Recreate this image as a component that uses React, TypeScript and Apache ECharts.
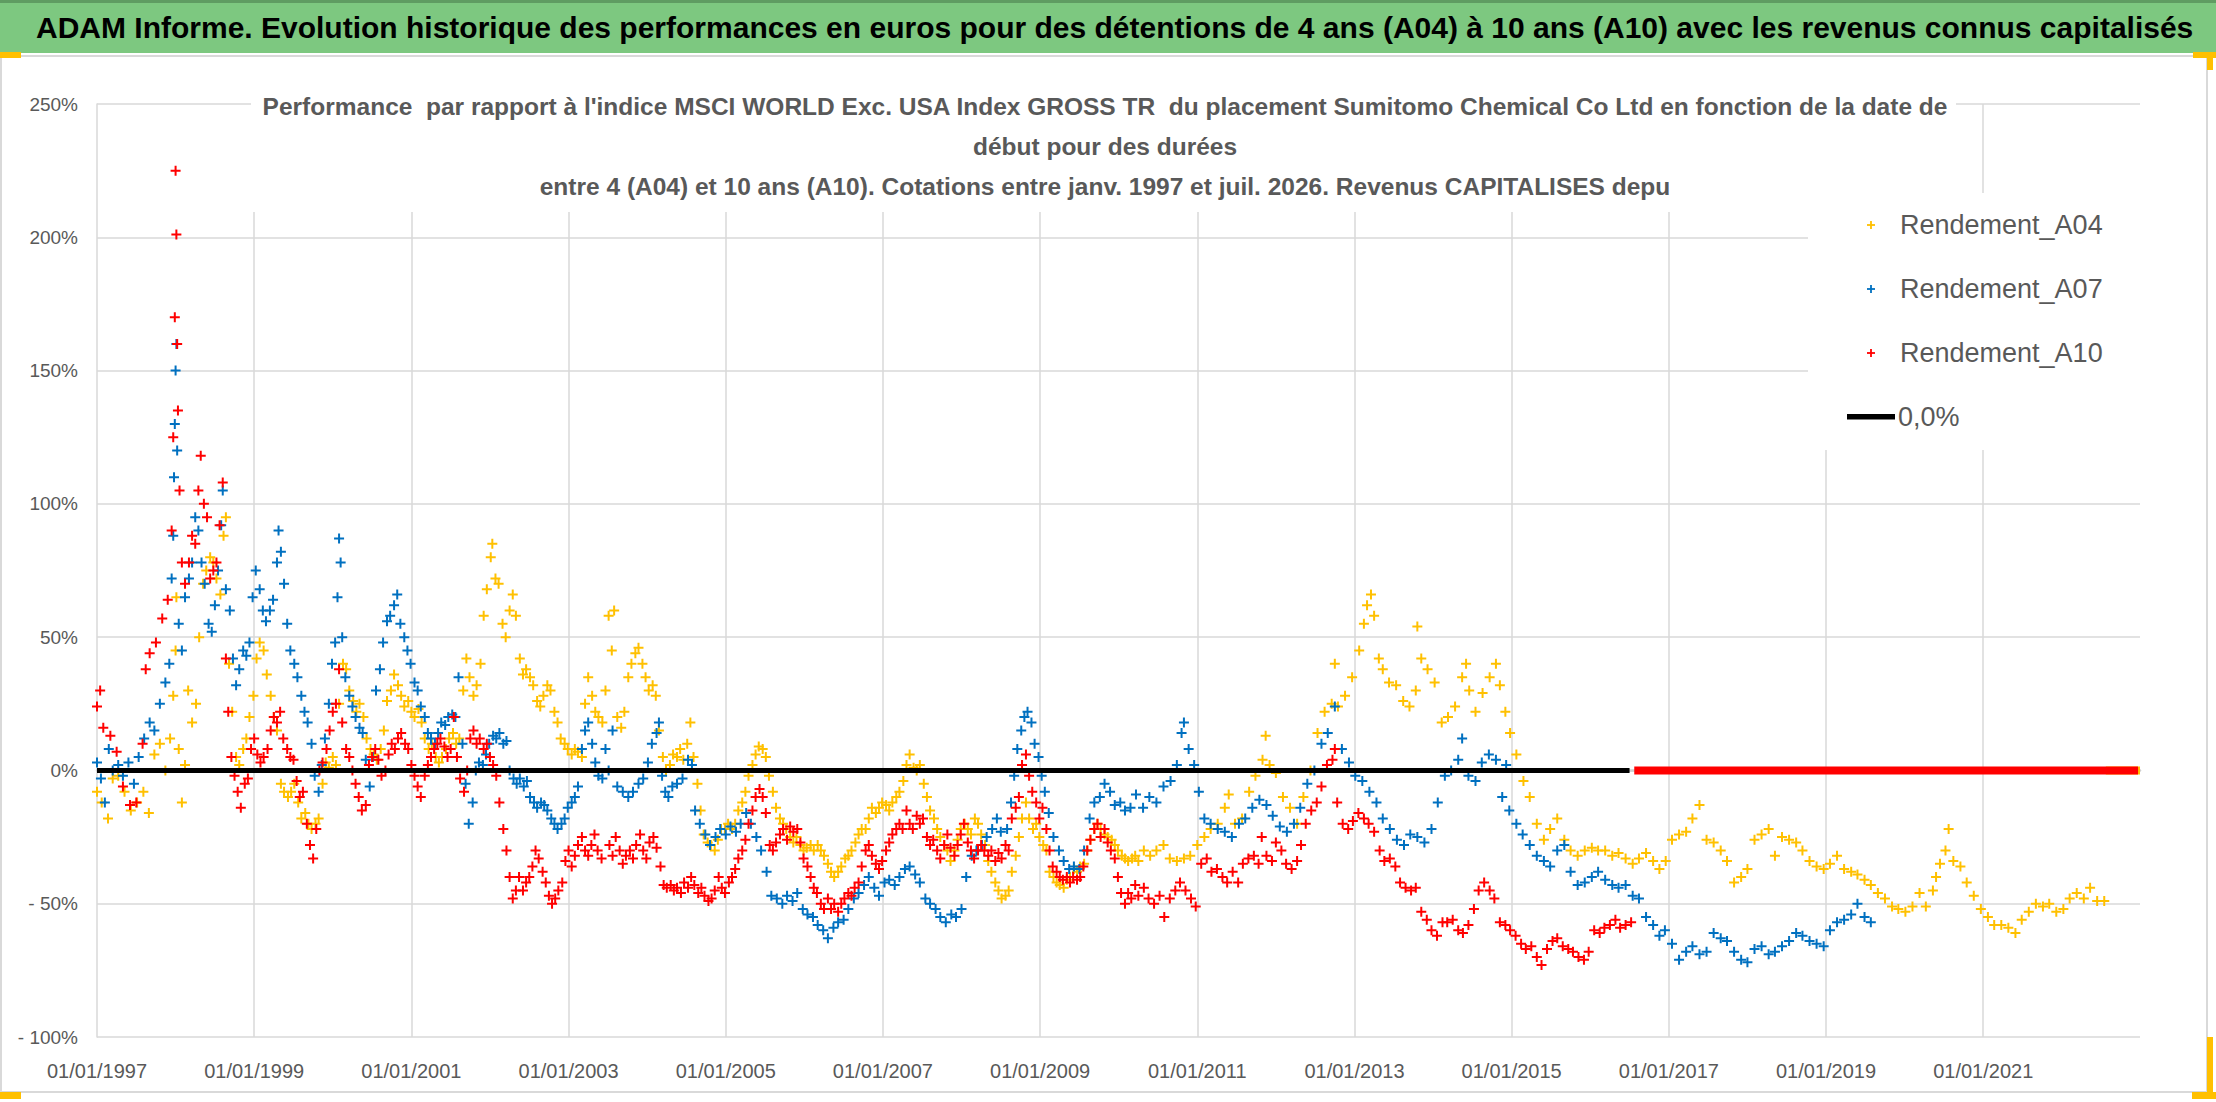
import React, { useEffect, useRef } from 'react'
import * as echarts from 'echarts'

const HEADER =
  'ADAM Informe. Evolution historique des performances en euros pour des détentions de 4 ans (A04) à 10 ans (A10) avec les revenus connus capitalisés'
const TITLE_LINES = [
  "Performance  par rapport à l'indice MSCI WORLD Exc. USA Index GROSS TR  du placement Sumitomo Chemical Co Ltd en fonction de la date de",
  'début pour des durées',
  'entre 4 (A04) et 10 ans (A10). Cotations entre janv. 1997 et juil. 2026. Revenus CAPITALISES depu',
]
const NAMES = ['Rendement_A04', 'Rendement_A07', 'Rendement_A10']
const ZERO_NAME = '0,0%'
const COLORS = ['#FFC000', '#0070C0', '#FF0000']

// x axis: start dates as year fractions, one label every 2 years
const X_MIN = 1997
const X_MAX = 2022.995
const X_GRID_YEARS = [1999, 2001, 2003, 2005, 2007, 2009, 2011, 2013, 2015, 2017, 2019, 2021]
const Y_MIN = -100
const Y_MAX = 250
const Y_STEP = 50

// [start date, performance %]
const A04 = [
  [1997.0, -8], [1997.06, -12], [1997.14, -18], [1997.2, -3], [1997.27, -2], [1997.35, -8], [1997.43, -15], [1997.51, -12],
  [1997.59, -8], [1997.66, -16], [1997.73, 6], [1997.8, 10], [1997.87, 0], [1997.93, 12], [1997.97, 28], [1998.0, 45],
  [1998.01, 65], [1998.04, 8], [1998.08, -12], [1998.12, 2], [1998.16, 30], [1998.21, 18], [1998.26, 25], [1998.3, 50],
  [1998.35, 70], [1998.39, 75], [1998.44, 80], [1998.48, 78], [1998.52, 72], [1998.57, 66], [1998.61, 88], [1998.64, 95],
  [1998.68, 40], [1998.72, 22], [1998.77, 5], [1998.81, 2], [1998.86, 8], [1998.9, 12], [1998.94, 20], [1998.99, 28],
  [1999.03, 42], [1999.07, 48], [1999.12, 45], [1999.16, 36], [1999.21, 28], [1999.25, 20], [1999.29, 15], [1999.34, -5],
  [1999.38, -8], [1999.43, -10], [1999.47, -8], [1999.51, -5], [1999.56, -12], [1999.6, -18], [1999.65, -16], [1999.69, -20],
  [1999.73, -22], [1999.78, -20], [1999.82, -18], [1999.87, -5], [1999.91, 3], [1999.95, 1], [2000.0, 5], [2000.04, 2],
  [2000.08, 25], [2000.13, 40], [2000.17, 38], [2000.21, 30], [2000.26, 26], [2000.3, 22], [2000.34, 25], [2000.39, 20],
  [2000.43, 12], [2000.48, 8], [2000.52, 6], [2000.56, 4], [2000.61, 8], [2000.65, 15], [2000.69, 26], [2000.74, 30],
  [2000.78, 36], [2000.83, 32], [2000.87, 28], [2000.91, 24], [2000.96, 26], [2001.0, 22], [2001.04, 20], [2001.09, 23],
  [2001.13, 18], [2001.17, 12], [2001.22, 8], [2001.26, 10], [2001.31, 5], [2001.35, 3], [2001.39, 5], [2001.44, 8],
  [2001.48, 12], [2001.53, 14], [2001.57, 10], [2001.61, 12], [2001.66, 30], [2001.7, 42], [2001.74, 35], [2001.79, 28],
  [2001.83, 32], [2001.88, 40], [2001.92, 58], [2001.96, 68], [2002.01, 80], [2002.03, 85], [2002.07, 72], [2002.11, 70],
  [2002.16, 55], [2002.2, 50], [2002.25, 60], [2002.29, 66], [2002.33, 58], [2002.38, 42], [2002.42, 36], [2002.46, 38],
  [2002.51, 35], [2002.55, 32], [2002.6, 26], [2002.64, 24], [2002.68, 28], [2002.73, 32], [2002.77, 30], [2002.82, 22],
  [2002.86, 18], [2002.9, 12], [2002.95, 10], [2002.99, 8], [2003.04, 6], [2003.08, 8], [2003.12, 7], [2003.17, 5],
  [2003.21, 25], [2003.25, 35], [2003.3, 28], [2003.34, 22], [2003.38, 20], [2003.43, 18], [2003.47, 30], [2003.51, 58],
  [2003.55, 45], [2003.58, 60], [2003.62, 20], [2003.67, 16], [2003.71, 22], [2003.76, 35], [2003.8, 40], [2003.85, 44],
  [2003.89, 46], [2003.94, 40], [2003.98, 35], [2004.02, 30], [2004.07, 32], [2004.11, 28], [2004.15, 15], [2004.2, 5],
  [2004.24, 0], [2004.29, 2], [2004.33, 6], [2004.38, 5], [2004.42, 8], [2004.46, 4], [2004.51, 10], [2004.55, 18],
  [2004.59, 5], [2004.64, -5], [2004.68, -15], [2004.72, -24], [2004.77, -27], [2004.81, -28], [2004.86, -30], [2004.9, -26],
  [2004.94, -22], [2004.99, -22], [2005.03, -20], [2005.08, -22], [2005.12, -20], [2005.16, -15], [2005.21, -12], [2005.25, -8],
  [2005.29, -2], [2005.34, 2], [2005.38, 6], [2005.42, 9], [2005.47, 8], [2005.51, 5], [2005.55, -2], [2005.6, -8],
  [2005.64, -14], [2005.69, -18], [2005.73, -20], [2005.77, -22], [2005.82, -25], [2005.86, -27], [2005.9, -25], [2005.95, -28],
  [2005.99, -30], [2006.03, -29], [2006.08, -28], [2006.12, -30], [2006.17, -28], [2006.21, -30], [2006.25, -32], [2006.3, -35],
  [2006.34, -38], [2006.38, -40], [2006.43, -38], [2006.47, -36], [2006.52, -33], [2006.56, -32], [2006.6, -30], [2006.65, -27],
  [2006.69, -24], [2006.73, -22], [2006.78, -22], [2006.82, -18], [2006.86, -14], [2006.91, -16], [2006.95, -14], [2006.99, -12],
  [2007.04, -13], [2007.08, -15], [2007.12, -12], [2007.17, -10], [2007.21, -8], [2007.26, -4], [2007.3, 2], [2007.34, 6],
  [2007.39, 1], [2007.43, 0], [2007.47, 2], [2007.52, -5], [2007.56, -10], [2007.6, -15], [2007.65, -18], [2007.69, -22],
  [2007.73, -25], [2007.78, -28], [2007.82, -30], [2007.86, -34], [2007.91, -30], [2007.95, -26], [2007.99, -22], [2008.04, -20],
  [2008.08, -22], [2008.12, -24], [2008.17, -18], [2008.21, -20], [2008.25, -24], [2008.3, -28], [2008.34, -34], [2008.38, -38],
  [2008.43, -42], [2008.47, -45], [2008.51, -48], [2008.56, -47], [2008.6, -45], [2008.64, -38], [2008.69, -32], [2008.73, -25],
  [2008.77, -18], [2008.82, -12], [2008.86, -18], [2008.91, -22], [2008.95, -20], [2008.99, -25], [2009.04, -28], [2009.08, -30],
  [2009.12, -38], [2009.17, -40], [2009.21, -42], [2009.25, -43], [2009.3, -44], [2009.34, -41], [2009.38, -40], [2009.43, -37],
  [2009.47, -38], [2009.51, -36], [2009.56, -35], [2009.6, -30], [2009.64, -26], [2009.69, -22], [2009.73, -20], [2009.77, -22],
  [2009.82, -24], [2009.86, -25], [2009.91, -26], [2009.95, -28], [2009.99, -30], [2010.04, -32], [2010.08, -33], [2010.12, -34],
  [2010.17, -33], [2010.21, -32], [2010.25, -34], [2010.32, -30], [2010.4, -32], [2010.48, -30], [2010.57, -28], [2010.65, -33],
  [2010.74, -34], [2010.83, -33], [2010.91, -32], [2011.0, -28], [2011.09, -25], [2011.17, -22], [2011.26, -20], [2011.35, -14],
  [2011.4, -9], [2011.48, -20], [2011.57, -18], [2011.66, -8], [2011.74, -2], [2011.83, 4], [2011.87, 13], [2011.92, 2],
  [2012.0, -1], [2012.09, -10], [2012.18, -14], [2012.27, -20], [2012.35, -10], [2012.44, 0], [2012.53, 14], [2012.62, 22],
  [2012.71, 25], [2012.75, 40], [2012.79, 24], [2012.88, 28], [2012.97, 35], [2013.06, 45], [2013.12, 55], [2013.16, 62],
  [2013.21, 66], [2013.25, 58], [2013.31, 42], [2013.36, 38], [2013.44, 33], [2013.53, 32], [2013.62, 26], [2013.7, 24],
  [2013.78, 30], [2013.8, 54], [2013.85, 42], [2013.93, 38], [2014.02, 33], [2014.11, 18], [2014.19, 20], [2014.28, 24],
  [2014.37, 35], [2014.42, 40], [2014.46, 30], [2014.54, 22], [2014.63, 29], [2014.72, 35], [2014.8, 40], [2014.85, 32],
  [2014.92, 22], [2014.98, 14], [2015.06, 6], [2015.15, -4], [2015.23, -10], [2015.32, -20], [2015.41, -26], [2015.49, -22],
  [2015.58, -18], [2015.67, -26], [2015.75, -30], [2015.84, -32], [2015.93, -30], [2016.02, -29], [2016.1, -30], [2016.19, -30],
  [2016.28, -32], [2016.36, -31], [2016.45, -33], [2016.54, -35], [2016.62, -33], [2016.71, -31], [2016.8, -34], [2016.88, -37],
  [2016.96, -34], [2017.04, -26], [2017.13, -24], [2017.22, -23], [2017.3, -18], [2017.39, -13], [2017.48, -26], [2017.57, -27],
  [2017.66, -30], [2017.74, -34], [2017.83, -42], [2017.92, -40], [2018.0, -37], [2018.09, -26], [2018.18, -24], [2018.27, -22],
  [2018.35, -32], [2018.44, -25], [2018.53, -26], [2018.62, -27], [2018.7, -30], [2018.79, -34], [2018.88, -36], [2018.97, -37],
  [2019.05, -35], [2019.14, -32], [2019.23, -37], [2019.32, -38], [2019.4, -39], [2019.49, -41], [2019.57, -43], [2019.66, -46],
  [2019.75, -48], [2019.84, -51], [2019.92, -52], [2020.01, -53], [2020.1, -51], [2020.19, -46], [2020.27, -51], [2020.36, -45],
  [2020.4, -40], [2020.45, -35], [2020.52, -30], [2020.56, -22], [2020.62, -34], [2020.71, -36], [2020.79, -42], [2020.88, -47],
  [2020.97, -52], [2021.06, -55], [2021.14, -58], [2021.23, -58], [2021.32, -59], [2021.41, -61], [2021.49, -56], [2021.58, -53],
  [2021.67, -50], [2021.76, -51], [2021.84, -50], [2021.93, -53], [2022.02, -52], [2022.1, -48], [2022.19, -46], [2022.28, -48],
  [2022.36, -44], [2022.45, -49], [2022.54, -49],
]

const A07 = [
  [1997.0, 3], [1997.05, -3], [1997.1, -12], [1997.15, 8], [1997.2, 0], [1997.27, 2], [1997.33, -2], [1997.4, 3],
  [1997.47, -5], [1997.53, 5], [1997.6, 12], [1997.67, 18], [1997.73, 15], [1997.8, 25], [1997.87, 33], [1997.92, 40],
  [1997.95, 72], [1997.97, 88], [1997.98, 110], [1997.99, 130], [1998.0, 150], [1998.01, 160], [1998.02, 120], [1998.04, 55],
  [1998.08, 45], [1998.12, 65], [1998.17, 72], [1998.21, 78], [1998.25, 95], [1998.29, 90], [1998.33, 78], [1998.37, 70],
  [1998.42, 55], [1998.46, 52], [1998.5, 62], [1998.54, 75], [1998.58, 92], [1998.6, 105], [1998.64, 68], [1998.69, 60],
  [1998.73, 42], [1998.77, 32], [1998.81, 38], [1998.86, 45], [1998.9, 43], [1998.94, 48], [1998.98, 65], [1999.02, 75],
  [1999.07, 68], [1999.11, 60], [1999.15, 56], [1999.2, 60], [1999.24, 64], [1999.29, 78], [1999.31, 90], [1999.34, 82],
  [1999.38, 70], [1999.42, 55], [1999.46, 45], [1999.51, 40], [1999.55, 35], [1999.6, 28], [1999.64, 22], [1999.68, 18],
  [1999.73, 10], [1999.77, -2], [1999.82, -8], [1999.86, 2], [1999.9, 12], [1999.95, 25], [1999.99, 40], [2000.03, 48],
  [2000.06, 65], [2000.08, 87], [2000.1, 78], [2000.12, 50], [2000.16, 35], [2000.21, 28], [2000.25, 24], [2000.29, 20],
  [2000.34, 16], [2000.38, 14], [2000.42, 4], [2000.47, -6], [2000.51, 5], [2000.55, 30], [2000.6, 38], [2000.64, 48],
  [2000.69, 56], [2000.73, 58], [2000.78, 62], [2000.82, 66], [2000.86, 55], [2000.91, 50], [2000.95, 45], [2000.99, 40],
  [2001.04, 33], [2001.08, 30], [2001.12, 24], [2001.17, 20], [2001.21, 14], [2001.25, 12], [2001.3, 10], [2001.34, 14],
  [2001.38, 18], [2001.43, 17], [2001.47, 20], [2001.52, 21], [2001.56, 20], [2001.6, 35], [2001.65, 10], [2001.69, -5],
  [2001.73, -20], [2001.78, -12], [2001.82, 0], [2001.86, 3], [2001.91, 2], [2001.95, 6], [2001.99, 10], [2002.04, 13],
  [2002.08, 12], [2002.12, 14], [2002.17, 10], [2002.21, 11], [2002.25, 0], [2002.3, -3], [2002.34, -5], [2002.38, -3],
  [2002.43, -6], [2002.47, -4], [2002.51, -10], [2002.56, -12], [2002.6, -14], [2002.65, -12], [2002.69, -13], [2002.73, -15],
  [2002.78, -18], [2002.82, -20], [2002.86, -22], [2002.91, -20], [2002.95, -18], [2002.99, -14], [2003.04, -12], [2003.08, -10],
  [2003.12, -6], [2003.17, 8], [2003.21, 15], [2003.25, 18], [2003.3, 10], [2003.34, 3], [2003.38, -2], [2003.43, -3],
  [2003.47, 8], [2003.51, 0], [2003.56, 15], [2003.62, -6], [2003.69, -8], [2003.76, -10], [2003.82, -8], [2003.89, -5],
  [2003.95, -3], [2004.01, 3], [2004.06, 10], [2004.12, 14], [2004.15, 18], [2004.19, -2], [2004.23, -8], [2004.27, -10],
  [2004.32, -6], [2004.38, -5], [2004.45, -3], [2004.52, 4], [2004.57, 2], [2004.61, -15], [2004.67, -20], [2004.74, -24],
  [2004.8, -28], [2004.87, -25], [2004.93, -22], [2005.0, -24], [2005.06, -21], [2005.13, -23], [2005.19, -20], [2005.26, -16],
  [2005.32, -20], [2005.39, -25], [2005.45, -30], [2005.52, -38], [2005.58, -47], [2005.65, -48], [2005.72, -50], [2005.78, -47],
  [2005.85, -49], [2005.91, -46], [2005.98, -52], [2006.04, -54], [2006.11, -55], [2006.17, -58], [2006.24, -60], [2006.3, -63],
  [2006.37, -59], [2006.43, -57], [2006.5, -56], [2006.56, -52], [2006.63, -48], [2006.69, -46], [2006.76, -43], [2006.82, -40],
  [2006.89, -44], [2006.95, -47], [2007.02, -42], [2007.08, -41], [2007.15, -43], [2007.21, -40], [2007.28, -37], [2007.34, -36],
  [2007.41, -39], [2007.47, -42], [2007.54, -48], [2007.6, -50], [2007.67, -52], [2007.73, -55], [2007.8, -57], [2007.87, -54],
  [2007.93, -55], [2008.0, -52], [2008.06, -40], [2008.13, -32], [2008.19, -30], [2008.26, -28], [2008.32, -25], [2008.39, -22],
  [2008.45, -18], [2008.5, -23], [2008.58, -22], [2008.63, -12], [2008.67, -2], [2008.71, 8], [2008.76, 15], [2008.8, 20],
  [2008.84, 22], [2008.89, 18], [2008.93, 10], [2008.98, 5], [2009.02, -2], [2009.06, -8], [2009.11, -16], [2009.17, -25],
  [2009.24, -30], [2009.3, -34], [2009.37, -37], [2009.43, -36], [2009.5, -37], [2009.56, -30], [2009.63, -18], [2009.69, -12],
  [2009.76, -10], [2009.82, -5], [2009.89, -8], [2009.95, -13], [2010.02, -12], [2010.08, -15], [2010.15, -14], [2010.22, -9],
  [2010.31, -14], [2010.39, -10], [2010.48, -12], [2010.57, -6], [2010.66, -4], [2010.74, 2], [2010.8, 14], [2010.83, 18],
  [2010.89, 8], [2010.96, 2], [2011.02, -8], [2011.09, -18], [2011.17, -20], [2011.26, -22], [2011.35, -23], [2011.44, -25],
  [2011.53, -20], [2011.61, -18], [2011.7, -14], [2011.79, -11], [2011.88, -13], [2011.96, -17], [2012.05, -21], [2012.14, -23],
  [2012.23, -20], [2012.31, -14], [2012.4, -5], [2012.49, 0], [2012.58, 10], [2012.66, 14], [2012.75, 24], [2012.84, 8],
  [2012.93, 3], [2013.01, -2], [2013.1, -4], [2013.19, -8], [2013.28, -12], [2013.36, -18], [2013.45, -22], [2013.54, -26],
  [2013.63, -28], [2013.71, -24], [2013.8, -25], [2013.89, -27], [2013.98, -22], [2014.06, -12], [2014.15, -2], [2014.23, 0],
  [2014.32, 4], [2014.37, 12], [2014.45, -2], [2014.54, -4], [2014.62, 3], [2014.71, 6], [2014.8, 4], [2014.88, -10],
  [2014.93, 2], [2014.97, -15], [2015.06, -20], [2015.14, -24], [2015.23, -28], [2015.32, -32], [2015.41, -34], [2015.49, -36],
  [2015.58, -30], [2015.67, -28], [2015.75, -38], [2015.84, -43], [2015.93, -42], [2016.02, -40], [2016.1, -38], [2016.19, -41],
  [2016.28, -43], [2016.36, -44], [2016.45, -43], [2016.54, -47], [2016.62, -48], [2016.71, -55], [2016.8, -58], [2016.88, -62],
  [2016.95, -60], [2017.04, -65], [2017.13, -71], [2017.22, -68], [2017.3, -66], [2017.39, -69], [2017.48, -68], [2017.57, -61],
  [2017.66, -63], [2017.74, -64], [2017.83, -68], [2017.92, -71], [2018.0, -72], [2018.09, -67], [2018.18, -66], [2018.27, -69],
  [2018.35, -68], [2018.44, -66], [2018.53, -64], [2018.62, -61], [2018.7, -62], [2018.79, -64], [2018.88, -65], [2018.97, -66],
  [2019.05, -60], [2019.14, -57], [2019.23, -56], [2019.32, -54], [2019.4, -50], [2019.49, -55], [2019.57, -57],
]

const A10 = [
  [1997.0, 24], [1997.04, 30], [1997.08, 16], [1997.17, 13], [1997.25, 7], [1997.33, -6], [1997.42, -13], [1997.5, -12],
  [1997.58, 10], [1997.62, 38], [1997.67, 44], [1997.75, 48], [1997.83, 57], [1997.9, 64], [1997.95, 90], [1997.97, 125],
  [1997.99, 170], [1998.0, 225], [1998.01, 201], [1998.02, 160], [1998.03, 135], [1998.05, 105], [1998.08, 78], [1998.12, 70],
  [1998.17, 78], [1998.21, 88], [1998.25, 85], [1998.29, 105], [1998.32, 118], [1998.36, 100], [1998.4, 95], [1998.44, 72],
  [1998.48, 75], [1998.52, 78], [1998.56, 92], [1998.6, 108], [1998.64, 42], [1998.67, 22], [1998.71, 5], [1998.75, -2],
  [1998.79, -8], [1998.83, -14], [1998.88, -5], [1998.92, -3], [1998.96, 8], [1999.0, 12], [1999.04, 6], [1999.08, 3],
  [1999.12, 5], [1999.17, 8], [1999.21, 15], [1999.25, 20], [1999.29, 18], [1999.33, 22], [1999.37, 12], [1999.42, 8],
  [1999.46, 5], [1999.5, 4], [1999.54, -4], [1999.58, -10], [1999.62, -8], [1999.67, -20], [1999.71, -28], [1999.75, -33],
  [1999.79, -22], [1999.83, 0], [1999.87, 3], [1999.92, 8], [1999.96, 15], [2000.0, 22], [2000.04, 25], [2000.08, 38],
  [2000.12, 18], [2000.17, 8], [2000.21, 5], [2000.25, 0], [2000.29, -5], [2000.33, -10], [2000.37, -15], [2000.42, -13],
  [2000.46, 2], [2000.5, 5], [2000.54, 8], [2000.58, 4], [2000.62, -2], [2000.67, 0], [2000.71, 6], [2000.75, 10],
  [2000.79, 8], [2000.83, 12], [2000.87, 14], [2000.92, 10], [2000.96, 8], [2001.0, 2], [2001.04, -2], [2001.08, -6],
  [2001.12, -10], [2001.17, -2], [2001.21, 2], [2001.25, 5], [2001.29, 8], [2001.33, 10], [2001.37, 12], [2001.42, 9],
  [2001.46, 5], [2001.5, 8], [2001.54, 20], [2001.58, 5], [2001.62, -3], [2001.67, -8], [2001.71, 0], [2001.75, 12],
  [2001.79, 15], [2001.83, 10], [2001.87, 12], [2001.92, 8], [2001.96, 10], [2002.0, 5], [2002.04, 2], [2002.08, -2],
  [2002.12, -12], [2002.17, -22], [2002.21, -30], [2002.25, -40], [2002.29, -48], [2002.33, -45], [2002.37, -40], [2002.42, -45],
  [2002.46, -42], [2002.5, -40], [2002.54, -36], [2002.58, -30], [2002.62, -33], [2002.67, -38], [2002.71, -42], [2002.75, -47],
  [2002.79, -50], [2002.83, -48], [2002.87, -45], [2002.92, -42], [2002.96, -34], [2003.0, -30], [2003.04, -36], [2003.08, -32],
  [2003.12, -28], [2003.17, -25], [2003.21, -30], [2003.25, -32], [2003.29, -28], [2003.33, -24], [2003.37, -30], [2003.42, -33],
  [2003.52, -28], [2003.56, -32], [2003.6, -25], [2003.65, -30], [2003.69, -35], [2003.73, -32], [2003.78, -30], [2003.82, -33],
  [2003.86, -28], [2003.91, -24], [2003.95, -30], [2003.99, -33], [2004.03, -27], [2004.08, -25], [2004.12, -29], [2004.17, -36],
  [2004.21, -43], [2004.25, -44], [2004.3, -43], [2004.34, -45], [2004.38, -44], [2004.43, -46], [2004.47, -42], [2004.52, -44],
  [2004.56, -40], [2004.6, -43], [2004.65, -46], [2004.69, -44], [2004.73, -47], [2004.78, -49], [2004.82, -48], [2004.86, -45],
  [2004.91, -40], [2004.95, -44], [2004.99, -46], [2005.04, -42], [2005.08, -40], [2005.12, -37], [2005.16, -33], [2005.21, -30],
  [2005.25, -26], [2005.29, -20], [2005.34, -15], [2005.38, -10], [2005.43, -7], [2005.47, -10], [2005.51, -16], [2005.56, -28],
  [2005.6, -30], [2005.64, -27], [2005.69, -24], [2005.73, -22], [2005.78, -26], [2005.82, -21], [2005.86, -23], [2005.91, -22],
  [2005.95, -27], [2005.99, -33], [2006.04, -36], [2006.08, -40], [2006.12, -44], [2006.16, -46], [2006.21, -50], [2006.25, -52],
  [2006.3, -48], [2006.34, -52], [2006.38, -50], [2006.43, -53], [2006.47, -50], [2006.51, -48], [2006.56, -46], [2006.6, -47],
  [2006.64, -44], [2006.69, -42], [2006.73, -36], [2006.78, -30], [2006.82, -28], [2006.86, -32], [2006.91, -35], [2006.95, -37],
  [2006.99, -34], [2007.04, -30], [2007.08, -27], [2007.12, -24], [2007.17, -22], [2007.21, -20], [2007.25, -22], [2007.3, -15],
  [2007.34, -20], [2007.38, -22], [2007.43, -17], [2007.47, -20], [2007.51, -18], [2007.56, -25], [2007.6, -28], [2007.64, -26],
  [2007.69, -30], [2007.73, -33], [2007.78, -28], [2007.82, -24], [2007.86, -29], [2007.91, -32], [2007.95, -28], [2007.99, -24],
  [2008.03, -20], [2008.08, -27], [2008.12, -30], [2008.16, -33], [2008.21, -30], [2008.25, -28], [2008.29, -30], [2008.34, -32],
  [2008.38, -30], [2008.43, -34], [2008.47, -31], [2008.51, -33], [2008.56, -28], [2008.6, -30], [2008.64, -18], [2008.69, -14],
  [2008.73, -10], [2008.77, 2], [2008.82, 6], [2008.86, -2], [2008.9, -8], [2008.95, -12], [2008.99, -18], [2009.03, -14],
  [2009.08, -22], [2009.12, -30], [2009.16, -36], [2009.21, -38], [2009.25, -40], [2009.29, -41], [2009.34, -40], [2009.38, -42],
  [2009.42, -40], [2009.47, -41], [2009.51, -40], [2009.55, -36], [2009.6, -30], [2009.64, -26], [2009.69, -22], [2009.73, -20],
  [2009.77, -25], [2009.82, -22], [2009.86, -27], [2009.9, -30], [2009.95, -33], [2009.99, -40], [2010.03, -46], [2010.08, -50],
  [2010.12, -46], [2010.16, -48], [2010.21, -43], [2010.25, -47], [2010.32, -44], [2010.38, -48], [2010.45, -50], [2010.52, -47],
  [2010.58, -55], [2010.65, -48], [2010.72, -45], [2010.78, -42], [2010.85, -45], [2010.92, -48], [2010.98, -51], [2011.05, -35],
  [2011.12, -33], [2011.18, -38], [2011.25, -37], [2011.32, -40], [2011.38, -42], [2011.45, -38], [2011.52, -42], [2011.58, -35],
  [2011.65, -33], [2011.72, -32], [2011.78, -35], [2011.82, -25], [2011.88, -32], [2011.95, -34], [2012.0, -27], [2012.07, -30],
  [2012.13, -35], [2012.2, -37], [2012.27, -34], [2012.32, -28], [2012.38, -20], [2012.45, -15], [2012.52, -12], [2012.58, -6],
  [2012.65, 2], [2012.72, 4], [2012.75, 8], [2012.78, -12], [2012.85, -20], [2012.92, -22], [2012.98, -19], [2013.05, -16],
  [2013.12, -18], [2013.18, -20], [2013.25, -23], [2013.32, -30], [2013.38, -34], [2013.45, -33], [2013.52, -36], [2013.58, -42],
  [2013.65, -44], [2013.72, -45], [2013.78, -44], [2013.85, -53], [2013.92, -56], [2013.98, -60], [2014.05, -62], [2014.12, -57],
  [2014.18, -57], [2014.25, -56], [2014.32, -60], [2014.38, -61], [2014.45, -58], [2014.52, -52], [2014.58, -45], [2014.65, -42],
  [2014.72, -45], [2014.78, -48], [2014.85, -57], [2014.92, -58], [2014.98, -60], [2015.05, -62], [2015.12, -65], [2015.18, -67],
  [2015.25, -66], [2015.32, -70], [2015.38, -73], [2015.45, -67], [2015.52, -64], [2015.58, -63], [2015.65, -66], [2015.72, -67],
  [2015.78, -68], [2015.85, -70], [2015.92, -71], [2015.98, -68], [2016.05, -60], [2016.12, -61], [2016.18, -59], [2016.25, -58],
  [2016.32, -56], [2016.38, -59], [2016.45, -58], [2016.52, -57],
]

// start dates whose holding period ends after the last quote: performance shown as 0
const A04_EMPTY = [[2022.56, 0], [2022.995, 0]]
const A10_EMPTY = [[2016.56, 0], [2022.97, 0]]
const ZERO_LINE = [[1997, 0], [2016.5, 0]]

const FONT = '"Liberation Sans", Arial, sans-serif'
const GREY = '#595959'
const GRID_GREY = '#D9D9D9'
const PLUS = 'path://M3.2,0H4.8V3.2H8V4.8H4.8V8H3.2V4.8H0V3.2H3.2Z'

function plusIcon(cx, cy, color) {
  return [
    { type: 'rect', shape: { x: cx - 4, y: cy - 0.9, width: 8, height: 1.8 }, style: { fill: color }, z: 10 },
    { type: 'rect', shape: { x: cx - 0.9, y: cy - 4, width: 1.8, height: 8 }, style: { fill: color }, z: 10 },
  ]
}

function textEl(text, x, y, font, fill, align) {
  return {
    type: 'text',
    x,
    y,
    style: { text, font, fill, align, verticalAlign: 'middle', textAlign: align, textVerticalAlign: 'middle' },
    z: 10,
  }
}

function App() {
  const chartRef = useRef(null)

  useEffect(() => {
    const chart = echarts.init(chartRef.current, null, { renderer: 'svg' })

    const scatter = (name, data, color) => ({
      name,
      type: 'scatter',
      data,
      symbol: PLUS,
      symbolSize: 10,
      itemStyle: { color, opacity: 1 },
      silent: true,
      z: 2,
    })
    const segment = (data, color, width) => ({
      type: 'line',
      data,
      symbol: 'none',
      lineStyle: { color, width },
      silent: true,
      z: 3,
    })

    const legendRows = NAMES.map((n, i) => ({ name: n, color: COLORS[i], y: 225 + i * 64 }))

    const option = {
      animation: false,
      backgroundColor: '#ffffff',
      textStyle: { fontFamily: FONT },
      grid: { left: 97, right: 76, top: 104, bottom: 65 },
      xAxis: {
        type: 'value',
        min: X_MIN,
        max: X_MAX,
        interval: 2,
        axisLine: { show: true, lineStyle: { color: '#CFCFCF', width: 2.5 } },
        axisTick: { show: false },
        splitLine: { show: false },
        axisLabel: {
          color: GREY,
          fontSize: 20,
          fontFamily: FONT,
          margin: 24,
          showMaxLabel: false,
          formatter: (v) => (Number.isInteger(v) ? '01/01/' + v : ''),
        },
      },
      yAxis: {
        type: 'value',
        min: Y_MIN,
        max: Y_MAX,
        interval: Y_STEP,
        axisLine: { show: true, lineStyle: { color: GRID_GREY, width: 1.5 } },
        axisTick: { show: false },
        splitLine: { show: true, lineStyle: { color: GRID_GREY, width: 1.5 } },
        axisLabel: {
          color: GREY,
          fontSize: 19,
          fontFamily: FONT,
          margin: 19,
          formatter: (v) => (v < 0 ? '- ' + -v + '%' : v + '%'),
        },
      },
      series: [
        {
          type: 'line',
          data: [[X_MIN, 0]],
          symbol: 'none',
          silent: true,
          lineStyle: { opacity: 0 },
          z: 0,
          markLine: {
            silent: true,
            symbol: 'none',
            z: 0,
            label: { show: false },
            lineStyle: { color: GRID_GREY, width: 1.5, type: 'solid' },
            data: X_GRID_YEARS.map((y) => ({ xAxis: y })),
          },
        },
        segment(A04_EMPTY, COLORS[0], 8),
        scatter(NAMES[0], A04, COLORS[0]),
        scatter(NAMES[1], A07, COLORS[1]),
        scatter(NAMES[2], A10, COLORS[2]),
        segment(A10_EMPTY, COLORS[2], 8),
        { ...segment(ZERO_LINE, '#000000', 5), name: ZERO_NAME, z: 4 },
      ],
      graphic: {
        elements: [
          // green banner
          { type: 'rect', shape: { x: 0, y: 0, width: 2216, height: 53 }, style: { fill: '#7DC880' }, z: 1 },
          { type: 'rect', shape: { x: 0, y: 0, width: 2216, height: 3 }, style: { fill: '#5F9C62' }, z: 1 },
          textEl(HEADER, 36, 27, 'bold 30px ' + FONT, '#000000', 'left'),
          // chart frame and selection handles
          { type: 'rect', shape: { x: 1, y: 56, width: 2206, height: 1036 }, style: { fill: 'none', stroke: GRID_GREY, lineWidth: 2 }, z: 1 },
          { type: 'rect', shape: { x: 0, y: 52, width: 21, height: 6 }, style: { fill: '#FFC000' }, z: 6 },
          { type: 'rect', shape: { x: 2193, y: 52, width: 23, height: 6 }, style: { fill: '#FFC000' }, z: 6 },
          { type: 'rect', shape: { x: 2207, y: 52, width: 6, height: 18 }, style: { fill: '#FFC000' }, z: 6 },
          { type: 'rect', shape: { x: 2207, y: 1037, width: 6, height: 60 }, style: { fill: '#FFC000' }, z: 6 },
          { type: 'rect', shape: { x: 2192, y: 1092, width: 24, height: 7 }, style: { fill: '#FFC000' }, z: 6 },
          { type: 'rect', shape: { x: 0, y: 1092, width: 21, height: 7 }, style: { fill: '#FFC000' }, z: 6 },
          // chart title box
          { type: 'rect', shape: { x: 251, y: 84, width: 1705, height: 128 }, style: { fill: '#ffffff' }, z: 1 },
          ...TITLE_LINES.map((t, i) => textEl(t, 1105, 106 + i * 40, 'bold 24.5px ' + FONT, GREY, 'center')),
          // legend box
          { type: 'rect', shape: { x: 1808, y: 193, width: 332, height: 257 }, style: { fill: '#ffffff' }, z: 1 },
          ...legendRows.flatMap((r) => [
            ...plusIcon(1871, r.y, r.color),
            textEl(r.name, 1900, r.y, '27px ' + FONT, GREY, 'left'),
          ]),
          { type: 'rect', shape: { x: 1847, y: 414, width: 48, height: 5.5 }, style: { fill: '#000000' }, z: 10 },
          textEl(ZERO_NAME, 1898, 417, '27px ' + FONT, GREY, 'left'),
        ],
      },
    }

    chart.setOption(option)
    return () => {
      chart.dispose()
    }
  }, [])

  return (
    <div
      ref={chartRef}
      style={{ position: 'fixed', left: 0, top: 0, width: '2216px', height: '1102px' }}
    ></div>
  )
}

export default App
